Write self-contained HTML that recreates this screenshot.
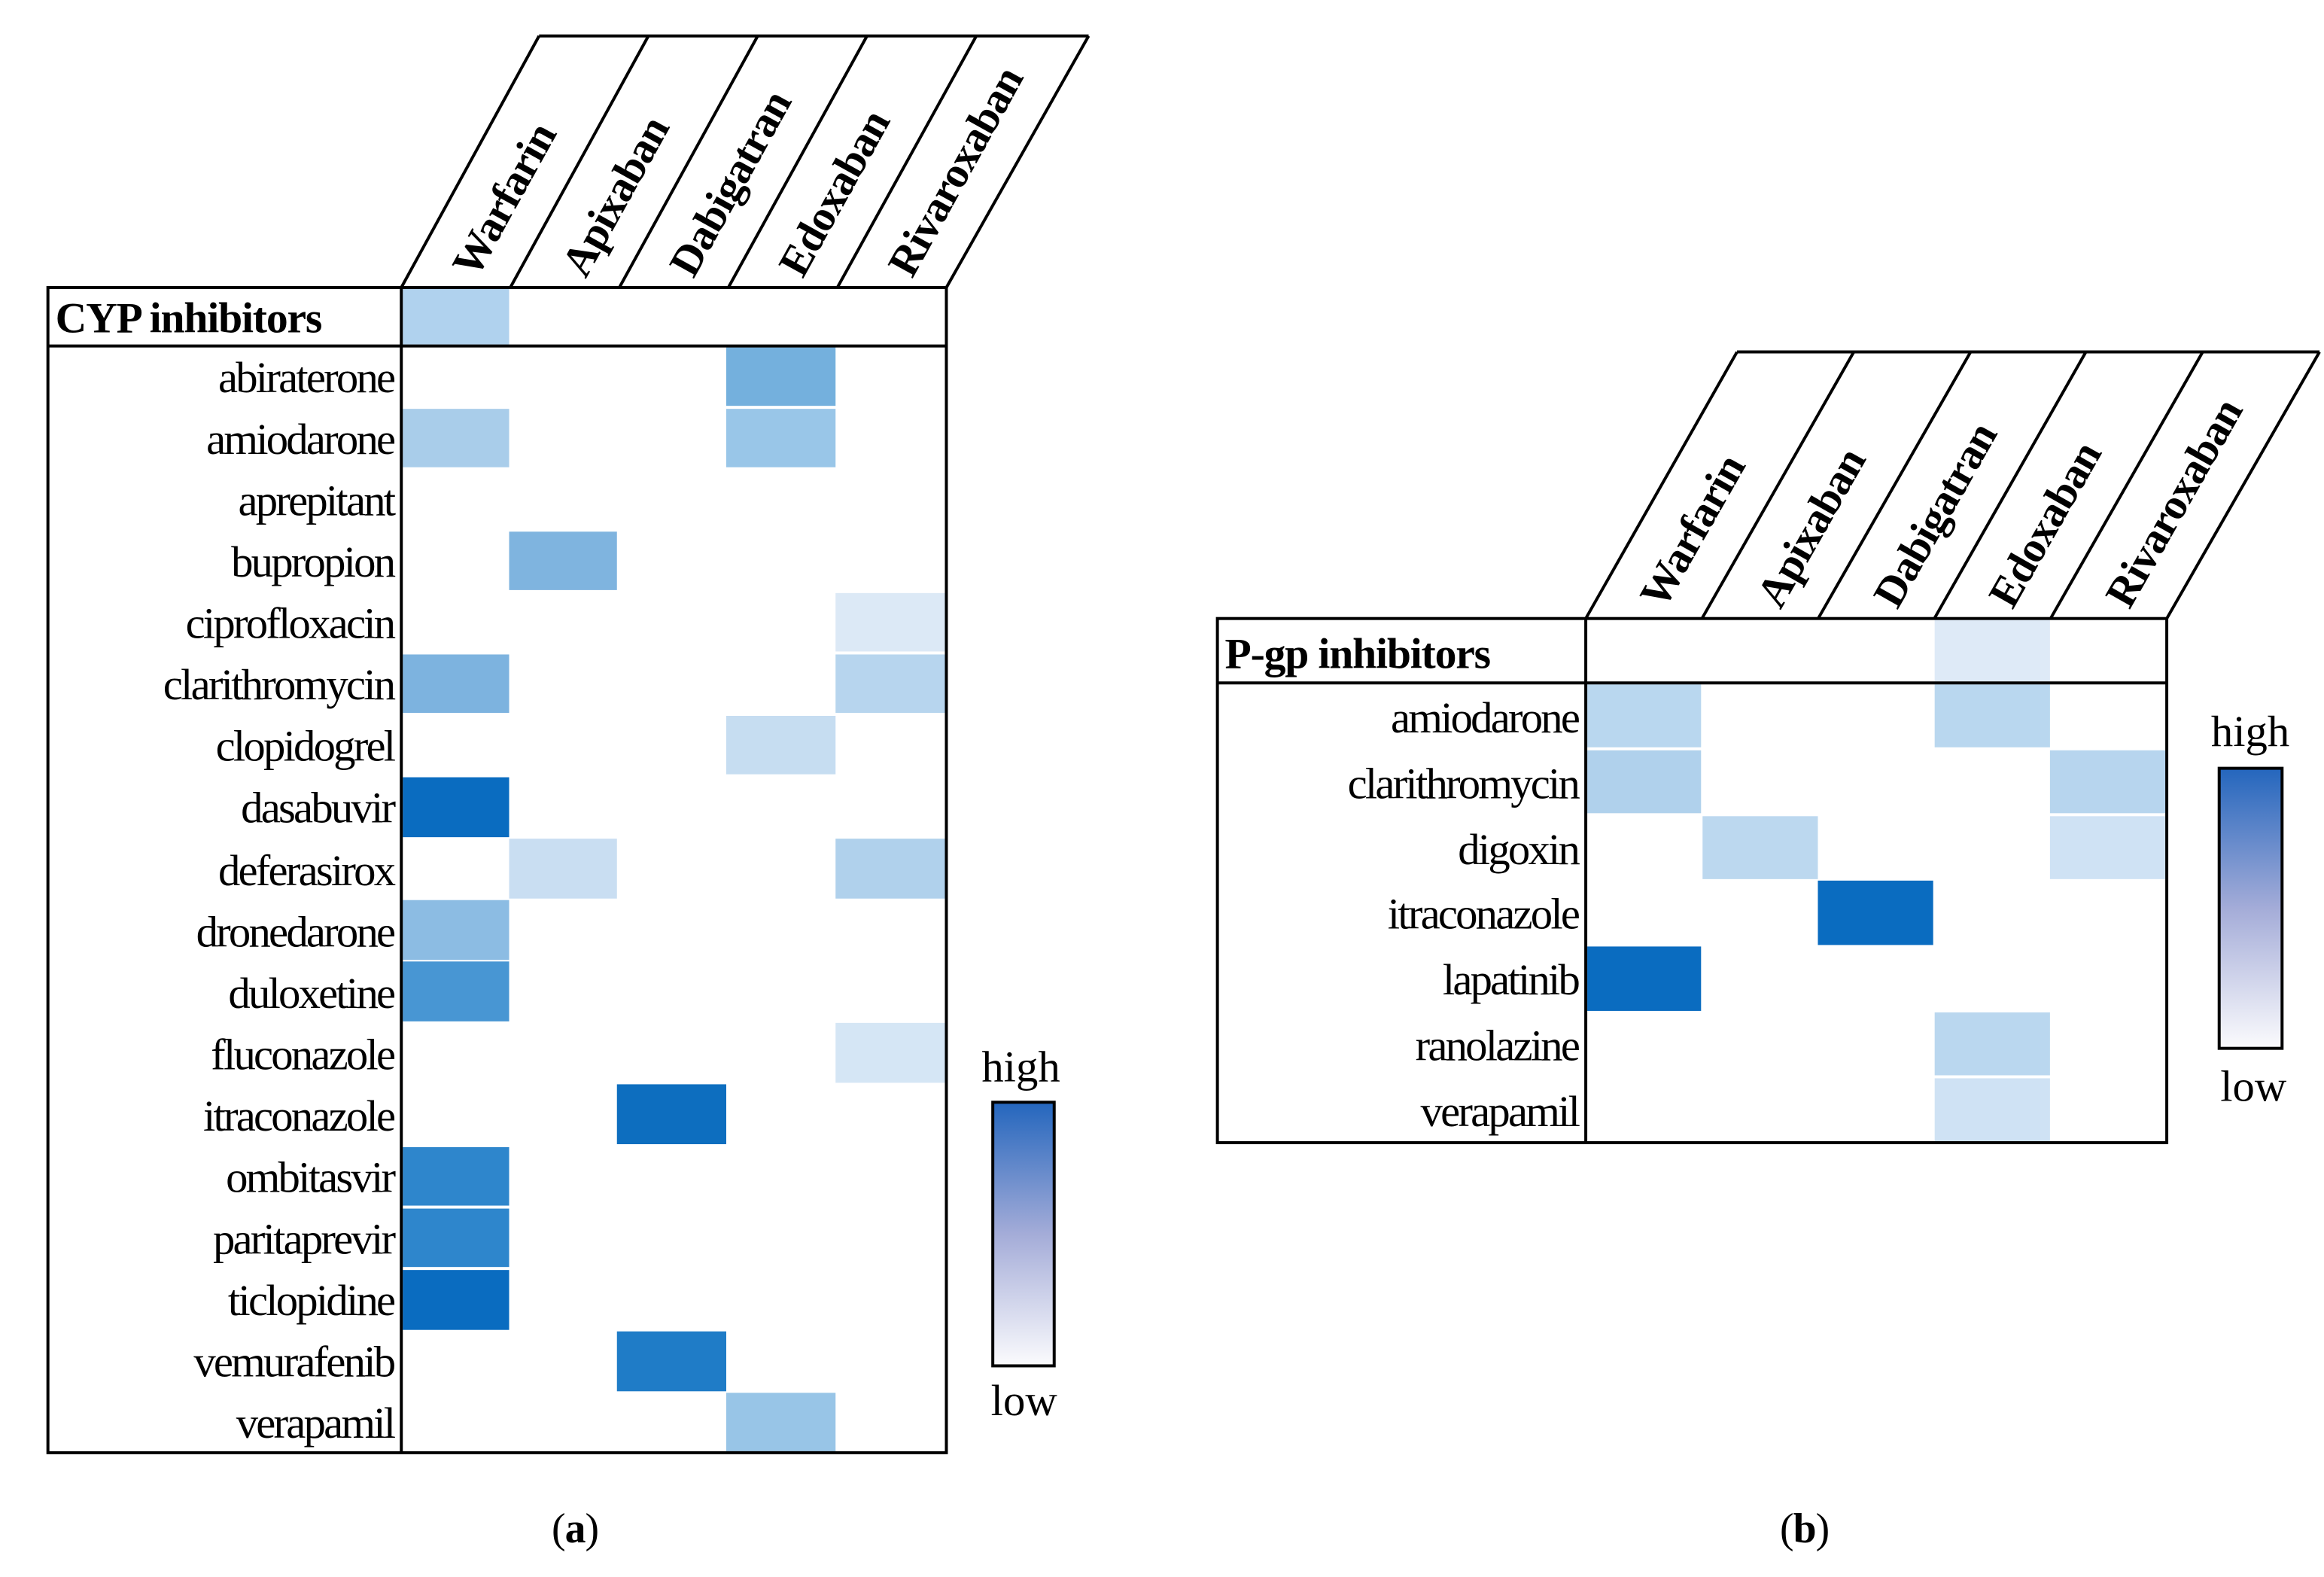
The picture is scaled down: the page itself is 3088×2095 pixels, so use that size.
<!DOCTYPE html>
<html><head><meta charset="utf-8"><style>
html,body{margin:0;padding:0;background:#fff;}
svg{display:block;}
text{font-family:"Liberation Serif",serif;fill:#000;}
.r{font-size:29.5px;text-anchor:end;letter-spacing:-1.4px;}
.h{font-size:29px;font-weight:bold;letter-spacing:-0.6px;}
.c{font-size:28px;letter-spacing:-0.5px;}
</style></head><body>
<svg width="3088" height="2095" viewBox="0 0 1552 1053" preserveAspectRatio="none" xmlns="http://www.w3.org/2000/svg">
<defs><linearGradient id="g" x1="0" y1="0" x2="0" y2="1">
<stop offset="0" stop-color="#2466bd"/><stop offset="0.5" stop-color="#a4acd8"/><stop offset="1" stop-color="#fbfbfd"/></linearGradient></defs>
<g stroke="none">
<rect x="269" y="193" width="71" height="37" fill="#b0d2ee"/>
<rect x="485" y="232" width="73" height="39" fill="#74b0dd"/>
<rect x="269" y="273" width="71" height="39" fill="#a9cdea"/>
<rect x="485" y="273" width="73" height="39" fill="#99c6e8"/>
<rect x="340" y="355" width="72" height="39" fill="#7fb4df"/>
<rect x="558" y="396" width="73" height="39" fill="#dce9f6"/>
<rect x="269" y="437" width="71" height="39" fill="#7db3df"/>
<rect x="558" y="437" width="73" height="39" fill="#b7d5ee"/>
<rect x="485" y="478" width="73" height="39" fill="#c6ddf1"/>
<rect x="269" y="519" width="71" height="40" fill="#0a6cc0"/>
<rect x="340" y="560" width="72" height="40" fill="#c9def2"/>
<rect x="558" y="560" width="73" height="40" fill="#b0d1ec"/>
<rect x="269" y="601" width="71" height="40" fill="#8cbce3"/>
<rect x="269" y="642" width="71" height="40" fill="#4896d3"/>
<rect x="558" y="683" width="73" height="40" fill="#d5e6f5"/>
<rect x="412" y="724" width="73" height="40" fill="#0d6ebf"/>
<rect x="269" y="766" width="71" height="39" fill="#2e86cc"/>
<rect x="269" y="807" width="71" height="39" fill="#2e86cc"/>
<rect x="269" y="848" width="71" height="40" fill="#0a6cc0"/>
<rect x="412" y="889" width="73" height="40" fill="#1f7cc7"/>
<rect x="485" y="930" width="73" height="39" fill="#98c5e7"/>
</g>
<g fill="none" stroke="#000" stroke-width="2">
<rect x="32" y="192" width="600" height="778"/>
<line x1="268" y1="192" x2="268" y2="970"/>
<line x1="32" y1="231" x2="632" y2="231"/>
<line x1="360" y1="24" x2="727" y2="24"/>
<line x1="268" y1="192" x2="360" y2="24"/>
<line x1="340.8" y1="192" x2="433" y2="24"/>
<line x1="413.6" y1="192" x2="506" y2="24"/>
<line x1="486.4" y1="192" x2="579" y2="24"/>
<line x1="559.2" y1="192" x2="652" y2="24"/>
<line x1="632" y1="192" x2="727" y2="24"/>
</g>
<text x="37" y="222" class="h">CYP inhibitors</text>
<text x="310" y="182" transform="rotate(-61 310 182)" dominant-baseline="central" class="h">Warfarin</text>
<text x="383" y="182" transform="rotate(-61 383 182)" dominant-baseline="central" class="h">Apixaban</text>
<text x="455" y="182" transform="rotate(-61 455 182)" dominant-baseline="central" class="h">Dabigatran</text>
<text x="528" y="182" transform="rotate(-61 528 182)" dominant-baseline="central" class="h">Edoxaban</text>
<text x="601" y="182" transform="rotate(-61 601 182)" dominant-baseline="central" class="h">Rivaroxaban</text>
<text class="r" x="263" y="262">abiraterone</text>
<text class="r" x="263" y="303">amiodarone</text>
<text class="r" x="263" y="344">aprepitant</text>
<text class="r" x="263" y="385">bupropion</text>
<text class="r" x="263" y="426">ciprofloxacin</text>
<text class="r" x="263" y="467">clarithromycin</text>
<text class="r" x="263" y="508">clopidogrel</text>
<text class="r" x="263" y="549">dasabuvir</text>
<text class="r" x="263" y="591">deferasirox</text>
<text class="r" x="263" y="632">dronedarone</text>
<text class="r" x="263" y="673">duloxetine</text>
<text class="r" x="263" y="714">fluconazole</text>
<text class="r" x="263" y="755">itraconazole</text>
<text class="r" x="263" y="796">ombitasvir</text>
<text class="r" x="263" y="837">paritaprevir</text>
<text class="r" x="263" y="878">ticlopidine</text>
<text class="r" x="263" y="919">vemurafenib</text>
<text class="r" x="263" y="960">verapamil</text>
<text class="r" x="708" y="722" style="letter-spacing:0">high</text>
<rect x="663" y="736" width="41" height="176" fill="url(#g)" stroke="#000" stroke-width="2"/>
<text class="r" x="706" y="945" style="letter-spacing:0">low</text>
<g stroke="none">
<rect x="1292" y="414" width="77" height="41" fill="#deeaf7"/>
<rect x="1060" y="457" width="76" height="42" fill="#b9d7ef"/>
<rect x="1292" y="457" width="77" height="42" fill="#b9d7ef"/>
<rect x="1060" y="501" width="76" height="42" fill="#b0d1ec"/>
<rect x="1369" y="501" width="77" height="42" fill="#b7d5ee"/>
<rect x="1137" y="545" width="77" height="42" fill="#bcd8ef"/>
<rect x="1369" y="545" width="77" height="42" fill="#cfe2f4"/>
<rect x="1214" y="588" width="77" height="43" fill="#0a6cc0"/>
<rect x="1060" y="632" width="76" height="43" fill="#0a6cc0"/>
<rect x="1292" y="676" width="77" height="42" fill="#bad7ef"/>
<rect x="1292" y="720" width="77" height="42" fill="#cfe2f4"/>
</g>
<g fill="none" stroke="#000" stroke-width="2">
<rect x="813" y="413" width="634" height="350"/>
<line x1="1059" y1="413" x2="1059" y2="763"/>
<line x1="813" y1="456" x2="1447" y2="456"/>
<line x1="1160" y1="235" x2="1549" y2="235"/>
<line x1="1059" y1="413" x2="1160" y2="235"/>
<line x1="1136.6" y1="413" x2="1238" y2="235"/>
<line x1="1214.2" y1="413" x2="1316" y2="235"/>
<line x1="1291.8" y1="413" x2="1393" y2="235"/>
<line x1="1369.4" y1="413" x2="1471" y2="235"/>
<line x1="1447" y1="413" x2="1549" y2="235"/>
</g>
<text x="818" y="446" class="h">P-gp inhibitors</text>
<text x="1103" y="403" transform="rotate(-60.4 1103 403)" dominant-baseline="central" class="h">Warfarin</text>
<text x="1181" y="403" transform="rotate(-60.4 1181 403)" dominant-baseline="central" class="h">Apixaban</text>
<text x="1259" y="403" transform="rotate(-60.4 1259 403)" dominant-baseline="central" class="h">Dabigatran</text>
<text x="1336" y="403" transform="rotate(-60.4 1336 403)" dominant-baseline="central" class="h">Edoxaban</text>
<text x="1414" y="403" transform="rotate(-60.4 1414 403)" dominant-baseline="central" class="h">Rivaroxaban</text>
<text class="r" x="1054" y="489">amiodarone</text>
<text class="r" x="1054" y="533">clarithromycin</text>
<text class="r" x="1054" y="577">digoxin</text>
<text class="r" x="1054" y="620">itraconazole</text>
<text class="r" x="1054" y="664">lapatinib</text>
<text class="r" x="1054" y="708">ranolazine</text>
<text class="r" x="1054" y="752">verapamil</text>
<text class="r" x="1529" y="498" style="letter-spacing:0">high</text>
<rect x="1482" y="513" width="42" height="187" fill="url(#g)" stroke="#000" stroke-width="2"/>
<text class="r" x="1527" y="735" style="letter-spacing:0">low</text>
<text class="c" x="384" y="1030" text-anchor="middle">(<tspan font-weight="bold">a</tspan>)</text>
<text class="c" x="1205" y="1030" text-anchor="middle">(<tspan font-weight="bold">b</tspan>)</text>
</svg>
</body></html>
